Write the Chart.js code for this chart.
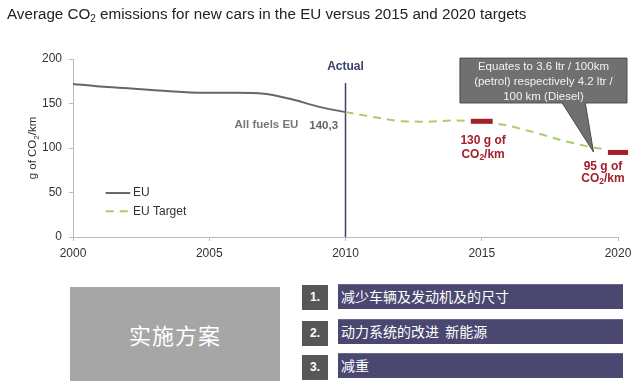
<!DOCTYPE html>
<html lang="zh">
<head>
<meta charset="UTF-8">
<title>CO2 emissions EU</title>
<script src="https://cdn.jsdelivr.net/npm/chart.js@4.4.0/dist/chart.umd.min.js"></script>
<style>
    body {
        margin: 0;
        width: 640px;
        height: 386px;
        background: #fff;
        position: relative;
        overflow: hidden;
        font-family: 'Liberation Sans', Arial, sans-serif;
    }
    #wrap { position: absolute; left: 0; top: 0; width: 640px; height: 270px; }
    .title { position: absolute; left: 7px; top: 5px; font-size: 15.2px; color: #222; white-space: nowrap; }
    .title sub { font-size: 10px; vertical-align: -3px; line-height: 0; }
    .plan {
        position: absolute; left: 70px; top: 287px; width: 210px; height: 94px;
        background: #a6a6a6; color: #fff; font-size: 22px;
        font-family: 'Noto Sans CJK SC', sans-serif;
        display: flex; align-items: center; justify-content: center; letter-spacing: 1px;
    }
    .num {
        position: absolute; left: 302px; width: 26px; height: 25px;
        background: #575757; color: #fff; font-weight: bold; font-size: 12px;
        line-height: 25px; text-align: center;
    }
    .bar {
        position: absolute; left: 338px; width: 285px; height: 25px;
        background: #4a4770; border-top: 1px solid #6a6790; box-sizing: border-box;
        color: #fff; font-size: 14px; line-height: 23px; padding-left: 3px;
        font-family: 'Noto Sans CJK SC', sans-serif;
    }
</style>
</head>
<body>
<div id="wrap"><canvas id="co2" width="640" height="270"></canvas></div>
<div class="title">Average CO<sub>2</sub> emissions for new cars in the EU versus 2015 and 2020 targets</div>

<div class="plan">实施方案</div>
<div class="num" style="top:285px">1.</div>
<div class="bar" style="top:284px">减少车辆及发动机及的尺寸</div>
<div class="num" style="top:321px">2.</div>
<div class="bar" style="top:319px">动力系统的改进&nbsp;&nbsp;新能源</div>
<div class="num" style="top:355px">3.</div>
<div class="bar" style="top:353px">减重</div>

<script>
// data
const euYears = [2000, 2001, 2002, 2003, 2004, 2005, 2006, 2007, 2008, 2009, 2010];
const euValues = [172, 169, 167, 165, 163, 162, 162, 161, 155, 146.5, 140.3];
const targetYears = [2010, 2011, 2012, 2013, 2014, 2015, 2016, 2017, 2018, 2019, 2019.6];
const targetValues = [140.3, 135, 130, 129.5, 131, 130, 125, 117, 108, 101, 98];
const target2015 = 130;
const target2020 = 95;
const actualYear = 2010;
const xTicks = [2000, 2005, 2010, 2015, 2020];
const yTicks = [0, 50, 100, 150, 200];

const FONT = '"Liberation Sans", Arial, sans-serif';
const RED = '#a3202b';

function rich(ctx, parts, cx, cy, size, weight, align) {
    const f = s => weight + ' ' + s + 'px ' + FONT;
    let w = 0;
    parts.forEach(p => { ctx.font = f(p[1] ? size * 0.7 : size); w += ctx.measureText(p[0]).width; });
    let sx = align === 'center' ? cx - w / 2 : align === 'right' ? cx - w : cx;
    ctx.textAlign = 'left';
    ctx.textBaseline = 'middle';
    parts.forEach(p => {
        ctx.font = f(p[1] ? size * 0.7 : size);
        ctx.fillText(p[0], sx, cy + (p[1] ? size * 0.3 : 0));
        sx += ctx.measureText(p[0]).width;
    });
}

const notes = {
    id: 'notes',
    afterDatasetsDraw(chart) {
        const { ctx, scales: { x, y } } = chart;
        const X = v => x.getPixelForValue(v);
        const Y = v => y.getPixelForValue(v);
        ctx.save();

        // y axis title
        ctx.fillStyle = '#333';
        ctx.save();
        ctx.translate(33, Y(100));
        ctx.rotate(-Math.PI / 2);
        rich(ctx, [['g of CO', 0], ['2', 1], ['/km', 0]], 0, 0, 11.5, 'normal', 'center');
        ctx.restore();

        // Actual label
        ctx.fillStyle = '#3b3f6b';
        rich(ctx, [['Actual', 0]], X(actualYear), Y(191), 12, 'bold', 'center');

        // All fuels EU / 140,3
        ctx.fillStyle = '#777';
        rich(ctx, [['All fuels EU', 0]], X(2007.1), Y(125.5), 11.5, 'bold', 'center');
        ctx.fillStyle = '#666';
        rich(ctx, [['140,3', 0]], X(2009.2), Y(124.5), 11.5, 'bold', 'center');

        // red target labels
        ctx.fillStyle = RED;
        rich(ctx, [['130 g of', 0]], X(2015.05), Y(108), 12, 'bold', 'center');
        rich(ctx, [['CO', 0], ['2', 1], ['/km', 0]], X(2015.05), Y(93), 12, 'bold', 'center');
        rich(ctx, [['95 g of', 0]], X(2019.45), Y(79), 12, 'bold', 'center');
        rich(ctx, [['CO', 0], ['2', 1], ['/km', 0]], X(2019.45), Y(66), 12, 'bold', 'center');

        // callout
        const bx0 = X(2014.2), bx1 = X(2020.33), by0 = Y(201), by1 = Y(150.6);
        ctx.beginPath();
        ctx.moveTo(bx0, by0);
        ctx.lineTo(bx1, by0);
        ctx.lineTo(bx1, by1);
        ctx.lineTo(X(2018.8), by1);
        ctx.lineTo(X(2019.1), Y(95.5));
        ctx.lineTo(X(2017.95), by1);
        ctx.lineTo(bx0, by1);
        ctx.closePath();
        ctx.fillStyle = '#707070';
        ctx.fill();
        ctx.strokeStyle = '#4a4a4a';
        ctx.lineWidth = 1;
        ctx.stroke();
        ctx.fillStyle = '#f2f2f2';
        const cx = (bx0 + bx1) / 2;
        rich(ctx, [['Equates to 3.6 ltr / 100km', 0]], cx, Y(191), 11.5, 'normal', 'center');
        rich(ctx, [['(petrol) respectively 4.2 ltr /', 0]], cx, Y(174), 11.5, 'normal', 'center');
        rich(ctx, [['100 km (Diesel)', 0]], cx, Y(157), 11.5, 'normal', 'center');

        // legend
        const ds = chart.data.datasets;
        [['EU', 49.4], ['EU Target', 29]].forEach(([label, yv]) => {
            const d = ds.find(s => s.label === label);
            ctx.beginPath();
            ctx.setLineDash(d.borderDash || []);
            ctx.strokeStyle = d.borderColor;
            ctx.lineWidth = 2;
            ctx.moveTo(X(2001.2), Y(yv));
            ctx.lineTo(X(2002.1), Y(yv));
            ctx.stroke();
            ctx.setLineDash([]);
            ctx.fillStyle = '#333';
            rich(ctx, [[label, 0]], X(2002.2), Y(yv), 12, 'normal', 'left');
        });
        ctx.restore();
    }
};

const ctx = document.getElementById('co2').getContext('2d');
new Chart(ctx, {
    type: 'line',
    data: {
        datasets: [{
            label: '2015 target',
            data: [{ x: 2014.6, y: target2015 }, { x: 2015.4, y: target2015 }],
            borderColor: RED,
            borderWidth: 5,
            pointRadius: 0,
            order: 0
        }, {
            label: '2020 target',
            data: [{ x: 2019.63, y: target2020 }, { x: 2020.37, y: target2020 }],
            borderColor: RED,
            borderWidth: 5,
            pointRadius: 0,
            clip: false,
            order: 0
        }, {
            label: 'EU',
            data: euYears.map((yr, i) => ({ x: yr, y: euValues[i] })),
            borderColor: '#666',
            borderWidth: 2,
            pointRadius: 0,
            cubicInterpolationMode: 'monotone',
            order: 1
        }, {
            label: 'EU Target',
            data: targetYears.map((yr, i) => ({ x: yr, y: targetValues[i] })),
            borderColor: '#a6cf6a',
            borderWidth: 2,
            borderDash: [8, 6],
            pointRadius: 0,
            tension: 0,
            order: 1
        }, {
            label: 'Actual',
            data: [{ x: actualYear, y: 0 }, { x: actualYear, y: 173 }],
            borderColor: '#3b3f6b',
            borderWidth: 1.5,
            pointRadius: 0,
            order: 1
        }]
    },
    options: {
        responsive: false,
        animation: false,
        layout: { padding: { top: 59, right: 22, left: 0, bottom: 0 } },
        plugins: { legend: { display: false }, tooltip: { enabled: false } },
        scales: {
            x: {
                type: 'linear',
                min: 2000,
                max: 2020,
                afterFit(s) { s.height = 33; },
                afterBuildTicks(s) { s.ticks = xTicks.map(v => ({ value: v })); },
                ticks: { callback: v => String(v), color: '#333', font: { size: 12, family: FONT }, padding: 5, maxRotation: 0 },
                grid: { drawOnChartArea: false, color: '#bbb', tickLength: 4 },
                border: { color: '#bbb' }
            },
            y: {
                min: 0,
                max: 200,
                afterFit(s) { s.width = 73; },
                afterBuildTicks(s) { s.ticks = yTicks.map(v => ({ value: v })); },
                ticks: { color: '#333', font: { size: 12, family: FONT }, padding: 7 },
                grid: { drawOnChartArea: false, color: '#bbb', tickLength: 4 },
                border: { color: '#bbb' }
            }
        }
    },
    plugins: [notes]
});
</script>
</body>
</html>
